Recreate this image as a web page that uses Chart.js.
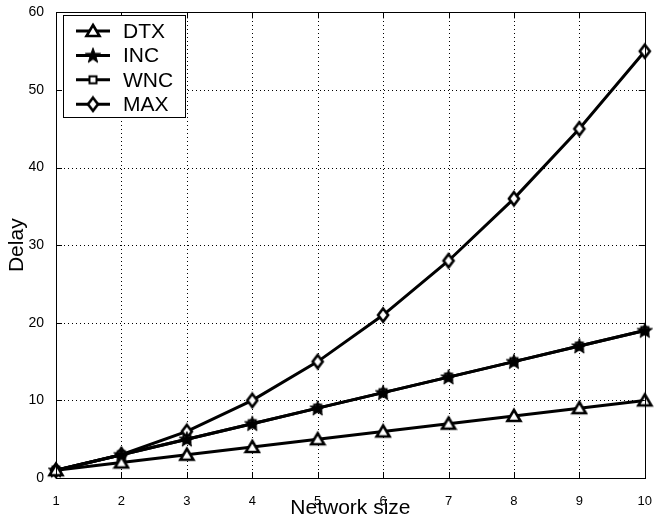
<!DOCTYPE html>
<html>
<head>
<meta charset="utf-8">
<script src="https://cdn.jsdelivr.net/npm/chart.js@4"></script>
<style>
html,body{margin:0;padding:0;background:#fff;}
#wrap{width:660px;height:522px;}
</style>
</head>
<body>
<div id="wrap"><canvas id="c" width="660" height="522"></canvas></div>
<script>
const networkSize = [1,2,3,4,5,6,7,8,9,10];
const dtx = [1,2,3,4,5,6,7,8,9,10];
const inc = [1,3,5,7,9,11,13,15,17,19];
const wnc = [1,3,5,7,9,11,13,15,17,19];
const maxS = [1,3,6,10,15,21,28,36,45,55];
const seriesNames = ['DTX','INC','WNC','MAX'];
const xTicks = [1,2,3,4,5,6,7,8,9,10];
const yTicks = [0,10,20,30,40,50,60];

function mk(size, draw){
  const c=document.createElement('canvas');c.width=size;c.height=size;
  const g=c.getContext('2d');draw(g,size/2);return c;
}
const triM = mk(18,(g,m)=>{g.beginPath();g.moveTo(m,m-6);g.lineTo(m+6.5,m+5);g.lineTo(m-6.5,m+5);g.closePath();
  g.fillStyle='#fff';g.fill();g.lineWidth=2.6;g.strokeStyle='#000';g.lineJoin='miter';g.stroke();});
const starM = mk(20,(g,m)=>{g.beginPath();for(let i=0;i<10;i++){const r=i%2?3.2:8;const a=-Math.PI/2+i*Math.PI/5;
  g.lineTo(m+r*Math.cos(a),m+r*Math.sin(a)+0.5);}g.closePath();g.fillStyle='#000';g.fill();g.lineWidth=1;g.strokeStyle='#000';g.stroke();});
const sqM = mk(14,(g,m)=>{g.fillStyle='#fff';g.fillRect(m-3.5,m-3.5,7,7);g.lineWidth=2;g.strokeStyle='#000';g.strokeRect(m-3.5,m-3.5,7,7);});
const diaM = mk(18,(g,m)=>{g.beginPath();g.moveTo(m,m-6.5);g.lineTo(m+5,m);g.lineTo(m,m+6.5);g.lineTo(m-5,m);g.closePath();
  g.fillStyle='#fff';g.fill();g.lineWidth=2.6;g.strokeStyle='#000';g.stroke();});
const markers=[triM,starM,sqM,diaM];

const frame = {
  id:'frame',
  beforeDatasetsDraw(chart){
    const {ctx,chartArea:a,scales}=chart;
    ctx.save();
    ctx.strokeStyle='#000';ctx.lineWidth=1;ctx.setLineDash([1,3]);
    ctx.beginPath();
    xTicks.forEach(v=>{const x=Math.round(scales.x.getPixelForValue(v))+0.5;ctx.moveTo(x,a.bottom);ctx.lineTo(x,a.top);});
    yTicks.forEach(v=>{const y=Math.round(scales.y.getPixelForValue(v))+0.5;ctx.moveTo(a.left,y);ctx.lineTo(a.right,y);});
    ctx.stroke();
    ctx.restore();
  },
  afterDatasetsDraw(chart){
    const {ctx,chartArea:a,scales}=chart;
    ctx.save();
    ctx.strokeStyle='#000';ctx.lineWidth=1;
    ctx.strokeRect(Math.round(a.left)+0.5,Math.round(a.top)+0.5,Math.round(a.right-a.left),Math.round(a.bottom-a.top));
    ctx.beginPath();
    xTicks.forEach(v=>{const x=Math.round(scales.x.getPixelForValue(v))+0.5;
      ctx.moveTo(x,a.bottom);ctx.lineTo(x,a.bottom-6);ctx.moveTo(x,a.top);ctx.lineTo(x,a.top+6);});
    yTicks.forEach(v=>{const y=Math.round(scales.y.getPixelForValue(v))+0.5;
      ctx.moveTo(a.left,y);ctx.lineTo(a.left+6,y);ctx.moveTo(a.right,y);ctx.lineTo(a.right-6,y);});
    ctx.stroke();
    // legend
    const L=63.5,T=15.5,W=122,H=102;
    ctx.fillStyle='#fff';ctx.fillRect(L,T,W,H);ctx.strokeRect(L,T,W,H);
    ctx.font='21px "Liberation Sans", Arial, sans-serif';
    ctx.textBaseline='middle';ctx.textAlign='left';
    seriesNames.forEach((n,i)=>{
      const y=31+i*24.4;
      ctx.beginPath();ctx.lineWidth=3;ctx.moveTo(76,y);ctx.lineTo(110,y);ctx.stroke();
      const m=markers[i];ctx.drawImage(m,93-m.width/2,y-m.height/2);
      ctx.fillStyle='#000';ctx.fillText(n,123,y+1);
    });
    ctx.restore();
  }
};

const ds=(label,data,i)=>({label,data:networkSize.map((x,j)=>({x,y:data[j]})),borderColor:'#000',backgroundColor:'#000',borderWidth:3,
  pointStyle:markers[i],pointRadius:6,pointHoverRadius:6,tension:0,clip:false});

new Chart(document.getElementById('c'),{
  type:'line',
  data:{datasets:[ds('DTX',dtx,0),ds('INC',inc,1),ds('WNC',wnc,2),ds('MAX',maxS,3)]},
  options:{
    responsive:false,animation:false,devicePixelRatio:1,
    layout:{padding:{top:8,right:8,left:0,bottom:0}},
    plugins:{legend:{display:false},tooltip:{enabled:false}},
    scales:{
      x:{type:'linear',min:1,max:10,
        afterFit(s){s.height=44;},
        afterBuildTicks(s){s.ticks=xTicks.map(v=>({value:v}));},
        grid:{display:false},
        border:{display:false},
        ticks:{color:'#000',padding:8,font:{family:'"Liberation Sans", Arial, sans-serif',size:13}},
        title:{display:true,text:'Network size',color:'#000',padding:{top:0,bottom:1},font:{family:'"Liberation Sans", Arial, sans-serif',size:21}}
      },
      y:{type:'linear',min:0,max:60,
        afterFit(s){s.width=56;},
        afterBuildTicks(s){s.ticks=yTicks.map(v=>({value:v}));},
        grid:{display:false},
        border:{display:false},
        ticks:{color:'#000',padding:4,font:{family:'"Liberation Sans", Arial, sans-serif',size:14}},
        title:{display:true,text:'Delay',color:'#000',padding:{top:5,bottom:0},font:{family:'"Liberation Sans", Arial, sans-serif',size:21}}
      }
    }
  },
  plugins:[frame]
});
</script>
</body>
</html>
